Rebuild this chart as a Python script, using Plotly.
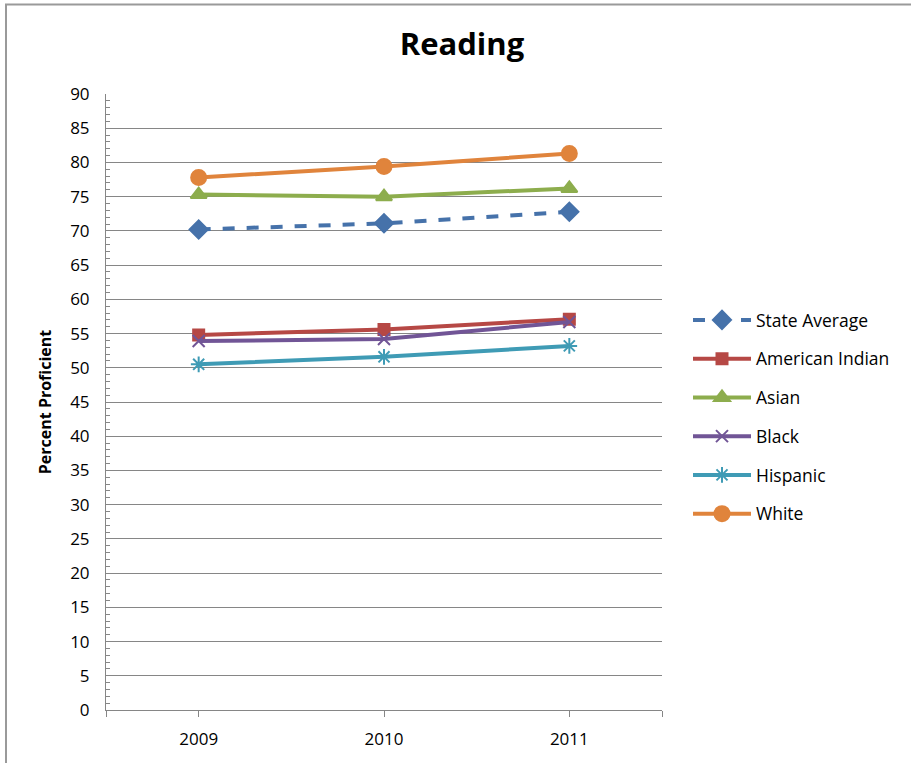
import plotly.graph_objects as go

years = ["2009", "2010", "2011"]
state_average = [70.2, 71.1, 72.8]
american_indian = [54.8, 55.6, 57.1]
asian = [75.3, 75.0, 76.2]
black = [53.9, 54.2, 56.7]
hispanic = [50.5, 51.6, 53.2]
white = [77.8, 79.4, 81.3]

series = [
    ("State Average", state_average, "#4672AA", "diamond", "dash", 14),
    ("American Indian", american_indian, "#B64845", "square", "solid", 11),
    ("Asian", asian, "#8DAD4D", "triangle-up", "solid", 14),
    ("Black", black, "#715596", "x-thin", "solid", 12),
    ("Hispanic", hispanic, "#3F9BB5", "asterisk", "solid", 13),
    ("White", white, "#E0843C", "circle", "solid", 15),
]

FONT = "Open Sans, Noto Sans, sans-serif"

xpos = list(range(len(years)))
fig = go.Figure()
for i, (name, vals, color, sym, dash, msize) in enumerate(series):
    fig.add_trace(go.Scatter(
        x=xpos, y=vals, name=name, mode="lines+markers",
        line=dict(color=color, width=4, dash=dash),
        marker=dict(symbol=sym, size=msize, color=color,
                    line=dict(color=color, width=2)),
        legendgroup=f"g{i}",
    ))

fig.update_layout(
    width=911, height=763,
    margin=dict(l=106, r=249, t=94, b=53),
    paper_bgcolor="white", plot_bgcolor="white",
    font=dict(family=FONT, size=17, color="black"),
    title=dict(text="<b>Reading</b>", x=462 / 911, xanchor="center",
               y=1 - 44 / 763, yanchor="middle",
               font=dict(size=31, family=FONT)),
    showlegend=True,
    legend=dict(x=(688 - 106) / 556, xanchor="left", y=(710 - 302) / 616,
                yanchor="top", itemwidth=58, tracegroupgap=13,
                font=dict(size=17.5, family=FONT), bgcolor="rgba(0,0,0,0)"),
    xaxis=dict(
        range=[-0.5, 2.5],
        tickvals=[-0.5, 0, 1, 2, 2.5],
        ticktext=["", years[0], years[1], years[2], ""],
        showgrid=False, zeroline=False,
        showline=True, linecolor="#868686", linewidth=1,
        ticks="outside", ticklen=6, tickcolor="#868686",
        ticklabelstandoff=8,
        tickfont=dict(size=17),
    ),
    yaxis=dict(
        range=[0, 90], dtick=5,
        showgrid=True, gridcolor="#868686", gridwidth=1,
        zeroline=False,
        showline=True, linecolor="#868686", linewidth=1,
        ticks="inside", ticklen=6, tickcolor="#868686",
        ticklabelstandoff=12,
        minor=dict(dtick=1, ticks="inside", ticklen=4, tickcolor="#868686", showgrid=False),
        tickfont=dict(size=17),
        title=dict(text="<b>Percent Proficient</b>", font=dict(size=16, family=FONT), standoff=14),
    ),
    shapes=[dict(type="rect", xref="paper", yref="paper",
                 x0=(6 - 106) / 556, x1=(930 - 106) / 556,
                 y0=(710 - 790) / 616, y1=(710 - 4.5) / 616,
                 line=dict(color="#9a9a9a", width=2), fillcolor="rgba(0,0,0,0)",
                 layer="below")],
)

fig.write_html("out.html", config={"displayModeBar": False},
               post_script="document.body.style.margin='0';")
